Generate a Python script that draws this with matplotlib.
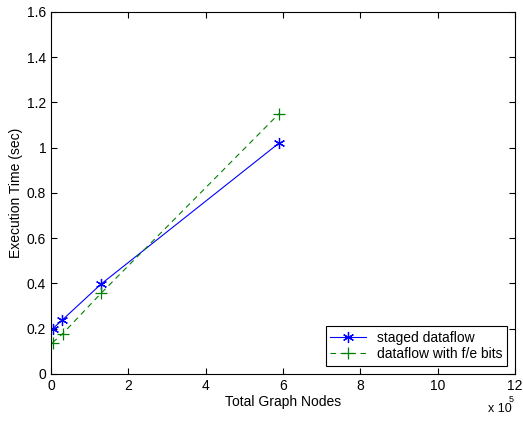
import numpy as np
import matplotlib
matplotlib.use("Agg")
import matplotlib.pyplot as plt

# data (x in units of 1e5 nodes)
nodes_staged = [0.04, 0.28, 1.29, 5.9]
time_staged = [0.199, 0.236, 0.396, 1.02]
nodes_fe = [0.04, 0.30, 1.30, 5.9]
time_fe = [0.138, 0.177, 0.357, 1.15]

plt.rcParams['font.family'] = ['Liberation Sans', 'DejaVu Sans']
plt.rcParams['font.size'] = 10

fig = plt.figure(figsize=(5.23, 4.21), dpi=100)
ax = fig.add_axes([0.0975, 0.112, 0.887, 0.86])

# matlab-like asterisk marker
ax.plot(nodes_staged, time_staged, color='#0000ff', linestyle='-', marker=(6, 2, 0),
        markersize=8, markeredgewidth=0.9, linewidth=0.8, label='staged dataflow')
ax.plot(nodes_fe, time_fe, color='#008000', linestyle=(0, (5, 4)), marker='+',
        markersize=8, markeredgewidth=0.9, linewidth=0.8, label='dataflow with f/e bits')

ax.set_xlim(0, 12)
ax.set_ylim(0, 1.6)
ax.set_xticks(np.arange(0, 13, 2))
ax.set_yticks(np.arange(0, 1.61, 0.2))
ax.set_yticklabels(['0', '0.2', '0.4', '0.6', '0.8', '1', '1.2', '1.4', '1.6'])
ax.tick_params(direction='in', top=True, right=True, length=4, width=0.8)
for s in ax.spines.values():
    s.set_linewidth(0.8)

ax.set_xlabel('Total Graph Nodes', labelpad=2)
ax.set_ylabel('Execution Time (sec)', labelpad=3)
fig.text(0.934, 0.022, 'x 10', fontsize=9)
fig.text(0.972, 0.046, '5', fontsize=6.5)

leg = ax.legend(loc='lower right', fancybox=False, edgecolor='black',
                framealpha=1, handlelength=2.6, borderpad=0.3, labelspacing=0.2,
                borderaxespad=0.6)
leg.get_frame().set_linewidth(0.8)

fig.savefig('out.png', dpi=100)
